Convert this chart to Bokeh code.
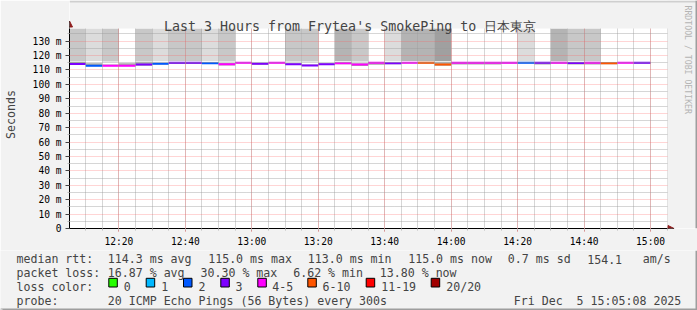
import pandas as pd
from bokeh.plotting import figure
from bokeh.models import (Range1d, FixedTicker, DatetimeTickFormatter, Label,
                          BoxAnnotation, Arrow, NormalHead, ColumnDataSource)
from bokeh.embed import file_html
from bokeh.resources import INLINE

# ---------------- data ----------------
title_text = "Last 3 Hours from Frytea's SmokePing to 日本東京"
range_start = pd.Timestamp("2025-12-05 12:05:08")
range_end = pd.Timestamp("2025-12-05 15:05:08")
step = pd.Timedelta("5min")
seg_start = pd.date_range("2025-12-05 12:05", periods=35, freq="5min")

median_ms = [114.1, 113.0, 113.0, 113.0, 113.8, 114.3, 115.0, 115.0, 114.6, 114.0,
             115.0, 114.4, 115.0, 114.0, 113.2, 114.0, 114.6, 113.9, 115.0, 114.6,
             115.0, 115.0, 113.8, 115.0, 115.0, 115.0, 115.0, 115.0, 115.0, 115.0,
             114.8, 115.0, 114.7, 115.0, 115.0]
loss_pings = [3, 2, 4, 5, 3, 2, 3, 3, 2, 4,
              4, 3, 4, 3, 3, 3, 5, 4, 4, 3,
              5, 6, 6, 4, 4, 4, 4, 2, 3, 5,
              3, 4, 6, 4, 3]
smoke_level = [2, 1, 2, 0, 2, 1, 2, 2, 1, 2,
               0, 0, 0, 2, 2, 0, 3, 2, 0, 1,
               3, 3, 4, 0, 0, 0, 0, 1, 0, 3,
               2, 2, 0, 0, 0]
smoke_floor_ms = [115.9, 116.3, 115.9, 116.0, 115.9, 116.0, 116.2, 116.2, 116.0, 115.9,
                  116.0, 116.0, 116.0, 115.9, 115.9, 116.0, 116.0, 115.9, 116.0, 116.0,
                  116.2, 116.1, 116.0, 116.0, 116.0, 116.0, 116.0, 116.1, 116.0, 116.1,
                  116.0, 116.0, 116.0, 116.0, 116.0]
dense_lo_ms = [113.6, 112.6, 112.6, 112.6, 113.0, 113.8, 114.1, 114.2, 114.1, 113.2,
               114.5, 113.6, 114.5, 113.4, 112.7, 113.4, 114.0, 112.8, 113.6, 114.0,
               114.5, 114.4, 112.9, 113.8, 113.8, 113.8, 114.3, 114.5, 113.8, 114.4,
               113.8, 113.8, 114.0, 114.5, 114.4]
dense_hi_ms = [115.6, 114.6, 113.8, 114.6, 115.4, 115.0, 115.6, 115.6, 115.3, 114.9,
               115.5, 115.0, 115.5, 114.6, 113.8, 114.6, 115.4, 114.6, 115.5, 115.2,
               115.6, 115.6, 115.3, 115.4, 115.4, 115.4, 115.5, 115.6, 115.4, 115.6,
               115.4, 115.5, 115.5, 115.5, 115.5]

y_ticks = [0, 10, 20, 30, 40, 50, 60, 70, 80, 90, 100, 110, 120, 130]
y_tick_labels = ["0", "10 m", "20 m", "30 m", "40 m", "50 m", "60 m", "70 m",
                 "80 m", "90 m", "100 m", "110 m", "120 m", "130 m"]
y_minor = [5, 15, 25, 35, 45, 55, 65, 75, 85, 95, 105, 115, 125, 135]
x_major = pd.date_range("2025-12-05 12:20", "2025-12-05 15:00", freq="20min")
x_minor = pd.date_range("2025-12-05 12:10", "2025-12-05 15:05", freq="5min")

loss_bins = [(0, "0", "#26ff00"), (1, "1", "#00b8ff"), (2, "2", "#0059ff"),
             (3, "3", "#7e00ff"), (5, "4-5", "#ff00ff"), (10, "6-10", "#ff5500"),
             (19, "11-19", "#ff0000"), (20, "20/20", "#a10000")]
rtt_stats = ["114.3 ms avg", "115.0 ms max", "113.0 ms min", "115.0 ms now",
             "0.7 ms sd", "154.1", "am/s"]
loss_stats = ["16.87 % avg", "30.30 % max", "6.62 % min", "13.80 % now"]
probe_text = "20 ICMP Echo Pings (56 Bytes) every 300s"
date_text = "Fri Dec \u00a05 15:05:08 2025"
watermark = "RRDTOOL / TOBI OETIKER"

# ---------------- layout constants ----------------
MONO = "DejaVu Sans Mono"
BG = "#f2f2f2"
W = 697
H_TOP, H_BOT = 250, 60
PLOT_L, PLOT_R = 67, 667          # canvas px of the plot area (time range)
PLOT_T, PLOT_B = 28, 228
Y_MAX = 138.8
PPM = (PLOT_B - PLOT_T) / Y_MAX    # px per ms of rtt
MS_PER_PX = (range_end - range_start).total_seconds() * 1000 / (PLOT_R - PLOT_L)


def ms(ts):
    return pd.Timestamp(ts).value / 1e6


def X(cx):
    return ms(range_start) + (cx - PLOT_L) * MS_PER_PX


def Y(cy):
    return (PLOT_B - cy) / PPM


def loss_color(n):
    for lim, _, c in loss_bins:
        if n <= lim:
            return c
    return loss_bins[-1][2]


shade = {1: "#dcdcdc", 2: "#c8c8c8", 3: "#b4b4b4", 4: "#a0a0a0"}

# ---------------- chart figure ----------------
p = figure(width=W, height=H_TOP, x_axis_type="datetime", output_backend="svg",
           toolbar_location=None, min_border_left=PLOT_L, min_border_right=0,
           min_border_top=0, min_border_bottom=H_TOP - PLOT_B,
           x_range=Range1d(ms(range_start), X(W)), y_range=Range1d(0, Y(0)))
p.background_fill_color = "white"
p.border_fill_color = BG
p.outline_line_color = None

seg_end = seg_start + step

idx = [i for i, lv in enumerate(smoke_level) if lv > 0]
up = ColumnDataSource(dict(
    left=[seg_start[i] for i in idx], right=[seg_end[i] for i in idx],
    bottom=[smoke_floor_ms[i] for i in idx], top=[Y_MAX] * len(idx),
    color=[shade[smoke_level[i]] for i in idx]))
p.quad(left="left", right="right", bottom="bottom", top="top", fill_color="color",
       line_color=None, source=up)

dense = ColumnDataSource(dict(left=list(seg_start), right=list(seg_end),
                              bottom=dense_lo_ms, top=dense_hi_ms))
p.quad(left="left", right="right", bottom="bottom", top="top", fill_color="#a8a8a8",
       line_color=None, source=dense)

med = ColumnDataSource(dict(x0=list(seg_start), x1=list(seg_end), y=median_ms,
                            color=[loss_color(n) for n in loss_pings]))
p.segment(x0="x0", x1="x1", y0="y", y1="y", line_color="color", line_width=2, source=med)

# axes
p.yaxis.ticker = FixedTicker(ticks=y_ticks, minor_ticks=y_minor)
p.yaxis.major_label_overrides = {t: l for t, l in zip(y_ticks, y_tick_labels)}
p.yaxis.bounds = (0, Y_MAX)
p.xaxis.ticker = FixedTicker(ticks=[ms(t) for t in x_major], minor_ticks=[ms(t) for t in x_minor])
p.xaxis.bounds = (ms(range_start), ms(range_end))
fmt = "%H:%M"
p.xaxis.formatter = DatetimeTickFormatter(minutes=fmt, hourmin=fmt, hours=fmt, minsec=fmt,
                                          days=fmt, seconds=fmt)
for ax in (p.xaxis[0], p.yaxis[0]):
    ax.axis_line_color = "black"
    ax.major_label_text_font = MONO
    ax.major_label_text_font_size = "9.6px"
    ax.major_label_text_color = "black"
    ax.major_tick_in = 0
    ax.minor_tick_in = 0
    ax.major_label_standoff = 4
p.xaxis.major_tick_out = 3
p.xaxis.major_tick_line_color = "#e07070"
p.xaxis.minor_tick_out = 2
p.xaxis.minor_tick_line_color = "#bbbbbb"
p.yaxis.major_tick_out = 4
p.yaxis.major_tick_line_color = "#444444"
p.yaxis.minor_tick_out = 2
p.yaxis.minor_tick_line_color = "#bbbbbb"
p.yaxis.axis_label = "Seconds"
p.yaxis.axis_label_text_font = MONO
p.yaxis.axis_label_text_font_size = "11.6px"
p.yaxis.axis_label_text_font_style = "normal"
p.yaxis.axis_label_standoff = 12

# grids on top of the data (as rrdtool does)
p.ygrid.ticker = FixedTicker(ticks=y_ticks[1:], minor_ticks=y_minor)
for g in (p.xgrid[0], p.ygrid[0]):
    g.level = "overlay"
    g.grid_line_color = "#ff5a5a"
    g.grid_line_alpha = 0.5
    g.grid_line_dash = "1 1"
    g.minor_grid_line_color = "#9a9a9a"
    g.minor_grid_line_alpha = 0.8
    g.minor_grid_line_dash = "1 1"


def box(fig, left=None, right=None, bottom=None, top=None, fill=BG, line=None):
    kw = dict(fill_color=fill, fill_alpha=1, line_color=line,
              line_alpha=1 if line else 0, line_width=1, level="overlay")
    for k, v in (("left", left), ("right", right), ("bottom", bottom), ("top", top)):
        if v is not None:
            kw[k] = v
    fig.add_layout(BoxAnnotation(**kw))


# margins outside the plot area (cover grid lines there)
box(p, bottom=Y_MAX)
box(p, left=ms(range_end))

# axis arrows
arrow_col = "#8f1d1d"
p.add_layout(Arrow(end=NormalHead(size=6, fill_color=arrow_col, line_color=arrow_col),
                   x_start=ms(range_start), y_start=Y_MAX, x_end=ms(range_start),
                   y_end=Y(20.5), line_color="black", line_width=1, level="overlay"))
p.add_layout(Arrow(end=NormalHead(size=6, fill_color=arrow_col, line_color=arrow_col),
                   x_start=ms(range_end), y_start=0, x_end=X(673.5), y_end=0,
                   line_color="black", line_width=1, level="overlay"))

p.add_layout(Label(x=X(348.5), y=Y(26), text=title_text, text_font=MONO,
                   text_font_size="13.3px", text_align="center",
                   text_baseline="alphabetic", level="overlay"))
p.add_layout(Label(x=X(687), y=Y(5), text=watermark, text_font=MONO,
                   text_font_size="8.2px", text_align="left", text_baseline="middle",
                   text_color="#b4b4b4", angle=-1.5708, level="overlay"))
# canvas border (top / right)
box(p, bottom=Y(2), fill="#cfcfcf")
box(p, left=X(W - 2), fill="#9e9e9e")

# ---------------- legend figure (separate root, full-canvas frame) ----------------
q = figure(width=W, height=H_BOT, output_backend="svg", toolbar_location=None,
           min_border=0, x_axis_location=None, y_axis_location=None,
           x_range=Range1d(0, W), y_range=Range1d(H_TOP + H_BOT, H_TOP))
q.background_fill_color = BG
q.border_fill_color = BG
q.outline_line_color = None
q.xgrid.visible = False
q.ygrid.visible = False


def txt(x, y, text):
    q.add_layout(Label(x=x, y=y, text=text, text_font=MONO, text_font_size="11.6px",
                       text_align="left", text_baseline="alphabetic"))


rtt_x = [107.3, 207.7, 307.3, 407.7, 507.3, 586.7, 642.3]
txt(16, 258.5, "median rtt:")
for xx, s in zip(rtt_x, rtt_stats):
    txt(xx, 258.5, s)
loss_x = [107.3, 200, 292.7, 379.3]
txt(16, 272.3, "packet loss:")
for xx, s in zip(loss_x, loss_stats):
    txt(xx, 272.3, s)
txt(16, 286.2, "loss color:")
sq_x = [108.3, 145.7, 183, 220.3, 257.3, 307.3, 365.7, 430.7]
lab_x = [123.3, 160.7, 198, 235, 271.7, 322, 380.7, 445.7]
q.quad(left=sq_x, right=[v + 8.5 for v in sq_x], top=[277.8] * len(sq_x),
       bottom=[286.5] * len(sq_x), fill_color=[c for _, _, c in loss_bins],
       line_color="black", line_width=1)
for (_, name, _), lx in zip(loss_bins, lab_x):
    txt(lx, 286.2, name)
txt(16, 300, "probe:")
txt(107.3, 300, probe_text)
txt(513.3, 300, date_text)

box(q, top=H_TOP + H_BOT - 2, fill="#9e9e9e")
box(q, left=W - 2, fill="#9e9e9e")
box(q, right=2, top=H_TOP + H_BOT - 2, fill="#cfcfcf")

open("out.html", "w").write(file_html([p, q], INLINE))
